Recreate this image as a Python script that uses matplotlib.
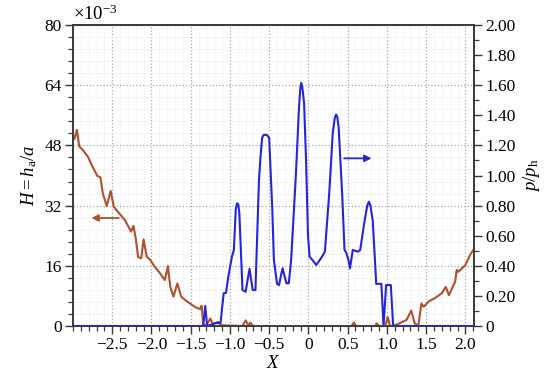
import numpy as np
import matplotlib as mpl
mpl.use('Agg')
import matplotlib.pyplot as plt
from matplotlib.ticker import FixedLocator, MultipleLocator

mpl.rcParams['font.family'] = ['Liberation Serif', 'DejaVu Serif']
mpl.rcParams['mathtext.fontset'] = 'custom'
mpl.rcParams['mathtext.rm'] = 'Liberation Serif'
mpl.rcParams['mathtext.it'] = 'Liberation Serif:italic'

# film thickness H (x1e-3), left axis
x_h = [-3.0, -2.98, -2.95, -2.92, -2.875, -2.81, -2.75, -2.69, -2.65, -2.62, -2.57, -2.52,
       -2.48, -2.43, -2.34, -2.26, -2.23, -2.20, -2.17, -2.13, -2.10, -2.06, -2.02, -1.96,
       -1.89, -1.83, -1.79, -1.76, -1.72, -1.67, -1.62, -1.57, -1.51, -1.44, -1.38, -1.36,
       -1.34, -1.30, -1.25, -1.22, -1.15, -1.11, -0.84, -0.80, -0.77, -0.74, -0.71, -0.68,
       0.55, 0.58, 0.61, 0.85, 0.87, 0.90, 0.98, 1.01, 1.04, 1.08, 1.16, 1.25, 1.31, 1.355,
       1.40, 1.44, 1.47, 1.53, 1.61, 1.70, 1.75, 1.79, 1.87, 1.89, 1.91, 2.00, 2.06, 2.10]
h = [49.5, 49.8, 52.1, 47.7, 46.8, 45.0, 42.3, 39.9, 39.5, 35.3, 31.9, 35.9,
     31.7, 30.4, 28.2, 25.1, 26.6, 23.3, 18.3, 18.0, 23.0, 18.4, 17.7, 15.8,
     14.0, 12.2, 15.9, 10.4, 7.8, 11.3, 7.8, 6.9, 6.0, 5.0, 4.5, 5.4,
     0.3, 0.2, 2.0, 0.5, 1.1, 0.2, 0.0, 1.5, 0.2, 0.9, 0.1, 0.0,
     0.0, 0.9, 0.0, 0.0, 0.7, 0.0, 0.0, 2.4, 0.0, 0.0, 0.7, 1.6, 4.1, 0.7,
     0.0, 6.0, 5.1, 6.5, 7.4, 8.7, 10.4, 8.2, 11.8, 14.9, 14.4, 16.2, 18.9, 20.2]

# pressure p/ph, right axis
x_p = [-3.0, -1.34, -1.315, -1.29, -1.18, -1.12, -1.08, -1.05, -1.02, -0.975, -0.95, -0.925,
       -0.91, -0.895, -0.88, -0.84, -0.80, -0.75, -0.71, -0.675, -0.63, -0.61, -0.59, -0.57,
       -0.53, -0.50, -0.46, -0.44, -0.40, -0.375, -0.33, -0.28, -0.25, -0.22, -0.16, -0.12,
       -0.105, -0.092, -0.078, -0.055, -0.03, -0.005, 0.015, 0.05, 0.10, 0.16, 0.21, 0.265,
       0.31, 0.335, 0.352, 0.368, 0.385, 0.43, 0.46, 0.48, 0.51, 0.53, 0.565, 0.63,
       0.66, 0.71, 0.75, 0.77, 0.79, 0.82, 0.864, 0.93, 0.957, 0.99, 1.05, 1.08, 2.11]
p = [0, 0, 0.133, 0, 0.02, 0.02, 0.217, 0.22, 0.33, 0.46, 0.505, 0.78,
     0.815, 0.81, 0.75, 0.239, 0.228, 0.38, 0.239, 0.239, 0.97, 1.125, 1.25, 1.27,
     1.27, 1.25, 0.77, 0.44, 0.28, 0.272, 0.383, 0.284, 0.284, 0.44, 1.0, 1.45,
     1.57, 1.615, 1.59, 1.48, 1.1, 0.6, 0.46, 0.44, 0.405, 0.45, 0.494, 0.88,
     1.28, 1.38, 1.405, 1.39, 1.32, 0.88, 0.505, 0.49, 0.44, 0.383, 0.505, 0.494,
     0.505, 0.68, 0.80, 0.826, 0.80, 0.70, 0.28, 0.28, 0.0, 0.272, 0.272, 0.0, 0.0]

x_ticks = [-2.5, -2.0, -1.5, -1.0, -0.5, 0, 0.5, 1.0, 1.5, 2.0]
x_ticklabels = ['\u22122.5', '\u22122.0', '\u22121.5', '\u22121.0', '\u22120.5', '0', '0.5', '1.0', '1.5', '2.0']
h_ticks = [0, 16, 32, 48, 64, 80]
p_ticks = [0, 0.2, 0.4, 0.6, 0.8, 1.0, 1.2, 1.4, 1.6, 1.8, 2.0]
p_ticklabels = ['0'] + ['%.2f' % v for v in p_ticks[1:]]

# arrow annotations (tail, head)
h_arrow = ((-2.38, 28.7), (-2.80, 28.7))
p_arrow = ((0.42, 1.114), (0.84, 1.114))

c_h = '#b0502c'
c_p = '#2424d8'
c_ax = '#383838'

fig = plt.figure(figsize=(5.52, 3.83), dpi=100)
ax = fig.add_axes([0.1322, 0.1488, 0.7265, 0.7859])
ax2 = ax.twinx()

ax.plot(x_h, h, color=c_h, lw=1.5, zorder=3)
ax2.plot(x_p, p, color=c_p, lw=1.5, zorder=3)

ax.set_xlim(-3.0, 2.11)
ax.set_ylim(0, 80)
ax2.set_ylim(0, 2.0)

ax.xaxis.set_major_locator(FixedLocator(x_ticks))
ax.set_xticklabels(x_ticklabels)
ax.xaxis.set_minor_locator(MultipleLocator(0.1))
ax.yaxis.set_major_locator(FixedLocator(h_ticks))
ax.yaxis.set_minor_locator(MultipleLocator(3.2))
ax2.yaxis.set_major_locator(FixedLocator(p_ticks))
ax2.set_yticklabels(p_ticklabels)
ax2.yaxis.set_minor_locator(MultipleLocator(0.1))

ax.grid(which='major', color='#a8a8a8', ls=':', lw=0.9)
ax.grid(which='minor', color='#e4e4e4', ls=':', lw=0.7)
ax.set_axisbelow(True)

for a in (ax, ax2):
    for s in a.spines.values():
        s.set_color(c_ax)
        s.set_linewidth(1.2)
    a.tick_params(which='major', direction='out', length=6, width=1.0, color=c_ax,
                  labelsize=12.5, pad=2)
    a.tick_params(which='minor', direction='out', length=3.5, width=0.9, color=c_ax)

ax.tick_params(axis='y', which='both', right=False)
ax.tick_params(axis='x', which='both', top=False)
ax2.tick_params(axis='y', which='both', left=False)

ax.set_xlabel('$X$', fontsize=13.5, labelpad=1)
ax.set_ylabel(r'$H=h_\mathrm{a}/a$', fontsize=13.5, labelpad=4)
ax2.set_ylabel(r'$p/p_\mathrm{h}$', fontsize=13.5, labelpad=4)
ax.text(0.0, 1.005, r'$\times10^{-3}$', transform=ax.transAxes, ha='left', va='bottom', fontsize=13.5)

ax.annotate('', xy=h_arrow[1], xytext=h_arrow[0],
            arrowprops=dict(arrowstyle='-|>', color=c_h, lw=1.3, mutation_scale=10))
ax2.annotate('', xy=p_arrow[1], xytext=p_arrow[0],
             arrowprops=dict(arrowstyle='-|>', color=c_p, lw=1.3, mutation_scale=10))

plt.savefig('out.png', dpi=100)
